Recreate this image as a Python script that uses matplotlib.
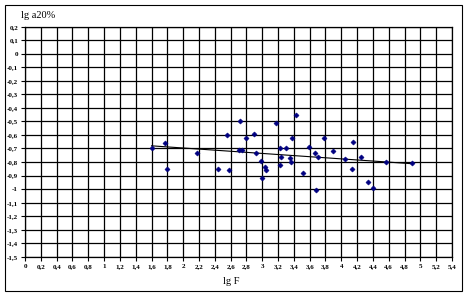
import numpy as np
import matplotlib
matplotlib.use('Agg')
import matplotlib.pyplot as plt
from matplotlib.patches import Rectangle

# lg F / lg a20%
lg_F = [1.60, 1.77, 1.80, 2.18, 2.44, 2.56, 2.58, 2.72, 2.70, 2.74,
        2.80, 2.89, 2.92, 2.98, 3.04, 3.05, 3.00, 3.18, 3.22, 3.24,
        3.23, 3.30, 3.35, 3.37, 3.38, 3.43, 3.59, 3.67, 3.71, 3.51,
        3.68, 3.78, 3.89, 4.05, 4.15, 4.13, 4.25, 4.34, 4.40, 4.56, 4.90]
lg_a20 = [-0.70, -0.66, -0.85, -0.73, -0.85, -0.60, -0.86, -0.50, -0.71, -0.71,
          -0.62, -0.59, -0.73, -0.79, -0.84, -0.86, -0.92, -0.51, -0.70, -0.76,
          -0.82, -0.70, -0.77, -0.80, -0.62, -0.45, -0.69, -0.73, -0.76, -0.88,
          -1.01, -0.62, -0.72, -0.78, -0.65, -0.85, -0.76, -0.95, -0.99, -0.80, -0.81]

x_ticks = np.round(np.arange(0, 5.41, 0.2), 1)
y_ticks = np.round(np.arange(-1.5, 0.21, 0.1), 1)

def comma(v):
    s = ('%g' % v).replace('.', ',')
    return '0' if s == '-0' else s

plt.rcParams['font.family'] = ['Liberation Serif', 'DejaVu Serif']

fig = plt.figure(figsize=(4.68, 2.96), dpi=100)
ax = fig.add_axes([25 / 468, 1 - 256.7 / 296, 427 / 468, 230 / 296])

x = np.array(lg_F)
y = np.array(lg_a20)
ax.plot(x, y, linestyle='none', marker='D', markersize=2.6,
        markeredgewidth=0.4, color='#000080', zorder=3)

# linear trend line
k, b = np.polyfit(x, y, 1)
xt = np.array([x.min(), x.max()])
ax.plot(xt, k * xt + b, color='black', linewidth=0.8, zorder=2)

ax.set_xlim(0, 5.4)
ax.set_ylim(-1.5, 0.2)
ax.set_xticks(x_ticks)
ax.set_yticks(y_ticks)
ax.set_xticklabels([comma(v) for v in x_ticks], fontsize=5, fontweight='bold')
ax.set_yticklabels([comma(v) for v in y_ticks], fontsize=5, fontweight='bold')
ax.tick_params(direction='out', length=3, width=0.8, pad=2)
ax.grid(True, color='black', linewidth=0.9)
ax.set_axisbelow(True)
for s in ax.spines.values():
    s.set_linewidth(0.9)

fig.text(38 / 468, 1 - 16 / 296, 'lg a20%', fontsize=7.5, ha='center', va='center')
fig.text(231 / 468, 1 - 281 / 296, 'lg F', fontsize=7.5, ha='center', va='center')

fig.patches.append(Rectangle((5 / 468, 5 / 296), 457 / 468, 286 / 296,
                             transform=fig.transFigure, fill=False,
                             edgecolor='black', linewidth=0.8))

fig.savefig('out.png', dpi=100)
